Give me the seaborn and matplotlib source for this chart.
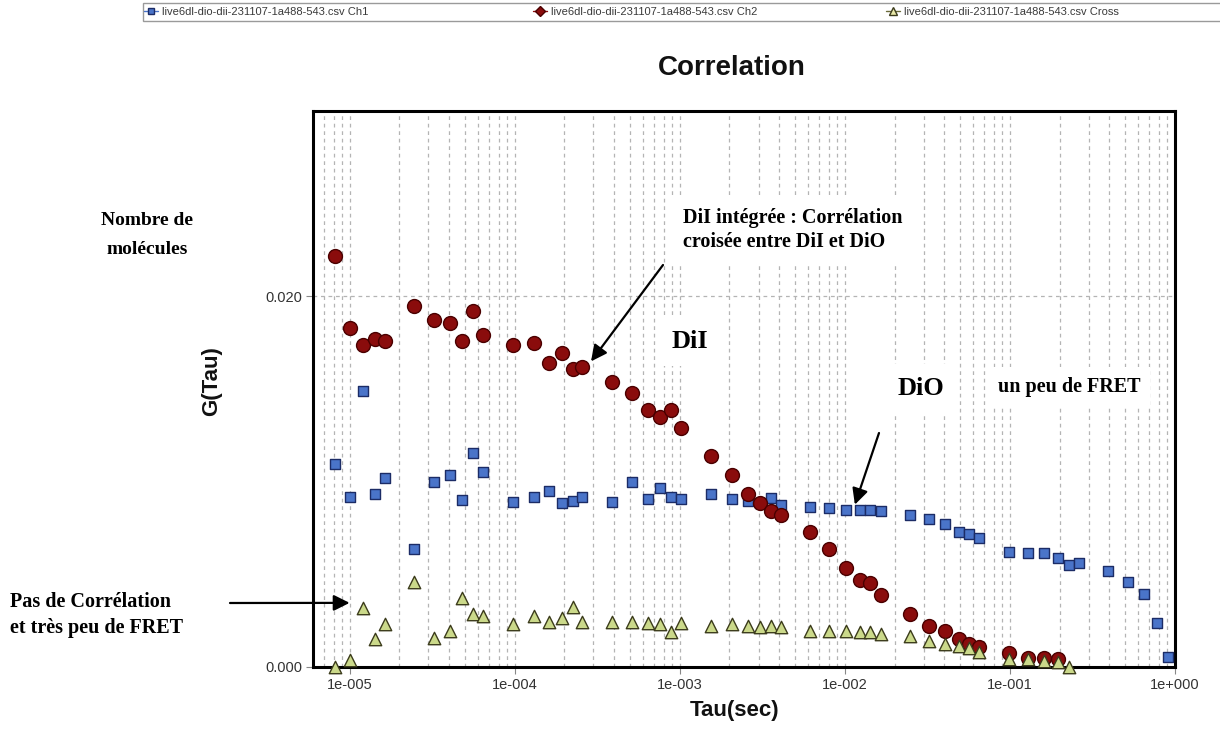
import numpy as np
import pandas as pd
import seaborn as sns
import matplotlib
matplotlib.use("Agg")
import matplotlib.pyplot as plt
from matplotlib import font_manager
from matplotlib.lines import Line2D
from matplotlib.patches import Rectangle
from matplotlib.ticker import FixedLocator, LogLocator, NullFormatter

# Lag times (s) shared by the three correlation curves
tau = [8.2e-6, 1.0e-5, 1.21e-5, 1.42e-5, 1.63e-5, 2.44e-5, 3.26e-5, 4.07e-5,
       4.82e-5, 5.62e-5, 6.43e-5, 9.7e-5, 1.30e-4, 1.62e-4, 1.93e-4, 2.25e-4,
       2.57e-4, 3.87e-4, 5.16e-4, 6.45e-4, 7.63e-4, 8.9e-4, 1.02e-3, 1.55e-3,
       2.07e-3, 2.58e-3, 3.07e-3, 3.56e-3, 4.1e-3, 6.14e-3, 8.03e-3, 1.02e-2,
       1.23e-2, 1.43e-2, 1.65e-2, 2.47e-2, 3.24e-2, 4.06e-2, 4.89e-2, 5.67e-2,
       6.52e-2, 9.82e-2, 0.129, 0.161, 0.195, 0.228, 0.261, 0.393, 0.517,
       0.646, 0.778, 0.908]

g_ch1 = [0.01094, 0.00917, 0.01488, 0.00933, 0.01020, 0.00638, 0.00996, 0.01038,
         0.00899, 0.01155, 0.01052, 0.00892, 0.00917, 0.00950, 0.00886, 0.00894,
         0.00917, 0.00892, 0.00996, 0.00906, 0.00964, 0.00915, 0.00908, 0.00933,
         0.00908, 0.00895, 0.00885, 0.00910, 0.00872, 0.00866, 0.00858, 0.00849,
         0.00849, 0.00849, 0.00842, 0.00822, 0.00796, 0.00771, 0.00731, 0.00717,
         0.00694, 0.00620, 0.00613, 0.00613, 0.00589, 0.00551, 0.00560, 0.00517,
         0.00461, 0.00393, 0.00239, 0.00056]

g_ch2 = [0.02215, 0.01831, 0.01735, 0.01768, 0.01759, 0.01950, 0.01872, 0.01854,
         0.01759, 0.01920, 0.01791, 0.01735, 0.01750, 0.01640, 0.01695, 0.01610,
         0.01618, 0.01537, 0.01481, 0.01387, 0.01351, 0.01384, 0.01290, 0.01140,
         0.01036, 0.00935, 0.00885, 0.00841, 0.00820, 0.00726, 0.00638, 0.00533,
         0.00472, 0.00452, 0.00389, 0.00286, 0.00223, 0.00196, 0.00150, 0.00123,
         0.00106, 0.00074, 0.00050, 0.00050, 0.00041]

g_cross = [0.00000, 0.00038, 0.00320, 0.00150, 0.00231, 0.00458, 0.00155, 0.00195,
           0.00371, 0.00285, 0.00276, 0.00231, 0.00276, 0.00245, 0.00267, 0.00323,
           0.00245, 0.00245, 0.00241, 0.00236, 0.00231, 0.00191, 0.00236, 0.00222,
           0.00231, 0.00222, 0.00218, 0.00222, 0.00215, 0.00196, 0.00195, 0.00195,
           0.00188, 0.00191, 0.00178, 0.00168, 0.00142, 0.00123, 0.00114, 0.00104,
           0.00083, 0.00045, 0.00041, 0.00032, 0.00029, 0.00000]

series_names = ["live6dl-dio-dii-231107-1a488-543.csv Ch1",
                "live6dl-dio-dii-231107-1a488-543.csv Ch2",
                "live6dl-dio-dii-231107-1a488-543.csv Cross"]

x_ticks = [1e-5, 1e-4, 1e-3, 1e-2, 1e-1, 1.0]
x_tick_labels = ["1e-005", "1e-004", "1e-003", "1e-002", "1e-001", "1e+000"]
y_ticks = [0.0, 0.02]
y_tick_labels = ["0.000", "0.020"]

# Build one long table for seaborn
frames = []
for name, g in zip(series_names, [g_ch1, g_ch2, g_cross]):
    frames.append(pd.DataFrame({"tau": tau[:len(g)], "G": g, "series": name}))
data = pd.concat(frames, ignore_index=True)

styles = {
    series_names[0]: dict(marker="s", s=52, color="#4a74c9", edgecolor="#1c2c66"),
    series_names[1]: dict(marker="o", s=100, color="#8a0c0c", edgecolor="#4a0000"),
    series_names[2]: dict(marker="^", s=80, color="#cbd98a", edgecolor="#3c3c1c"),
}

sns.set_theme(style="white")
installed = {f.name for f in font_manager.fontManager.ttflist}
narrow = "Liberation Sans Narrow" if "Liberation Sans Narrow" in installed else "Liberation Sans"
plt.rcParams["font.family"] = [narrow, "DejaVu Sans"]
serif = ["Liberation Serif", "DejaVu Serif"]

W, H = 1220, 740
fig = plt.figure(figsize=(W / 100, H / 100), dpi=100)
fig.patch.set_facecolor("white")


def fx(px):
    return px / W


def fy(py):
    return 1 - py / H


ax = fig.add_axes([fx(313), fy(667), fx(1175) - fx(313), fy(111) - fy(667)])
ax.set_facecolor("white")

for name in series_names:
    st = styles[name]
    sns.scatterplot(data=data[data["series"] == name], x="tau", y="G", ax=ax,
                    marker=st["marker"], s=st["s"], color=st["color"],
                    edgecolor=st["edgecolor"], linewidth=1.0, legend=False,
                    zorder=3, clip_on=False)

ax.set_xscale("log")
ax.set_xlim(6e-6, 1.0)
ax.set_ylim(0.0, 0.030)

ax.xaxis.set_major_locator(FixedLocator(x_ticks))
ax.set_xticklabels(x_tick_labels)
ax.xaxis.set_minor_locator(LogLocator(base=10, subs=np.arange(2, 10)))
ax.xaxis.set_minor_formatter(NullFormatter())
ax.set_yticks(y_ticks)
ax.set_yticklabels(y_tick_labels)

grid_kw = dict(color="#b4b4b4", linestyle=(0, (3, 3)), linewidth=0.9)
ax.grid(True, which="both", axis="x", **grid_kw)
ax.grid(True, which="major", axis="y", **grid_kw)
ax.set_axisbelow(True)

ax.tick_params(axis="both", which="major", direction="out", length=5, width=0.8,
               color="#888888", labelsize=10.5, labelcolor="#333333", pad=3)
ax.tick_params(axis="x", which="minor", direction="out", length=4, width=0.8,
               color="#999999")
ax.tick_params(left=True, bottom=True)

for sp in ax.spines.values():
    sp.set_visible(True)
    sp.set_color("black")
    sp.set_linewidth(2.2)

ax.set_xlabel("Tau(sec)", fontsize=16, fontweight="bold", color="#111111")
ax.xaxis.set_label_coords((735 - 313) / 862, (667 - 700) / 556)
ax.set_ylabel("G(Tau)", fontsize=16, fontweight="bold", color="#111111")
ax.yaxis.set_label_coords((222 - 313) / 862, 0.515)

fig.text(fx(732), fy(68), "Correlation", fontsize=20, fontweight="bold",
         color="#111111", ha="center", va="center")

# Legend strip across the top
fig.patches.append(Rectangle((fx(143), fy(21)), fx(1230) - fx(143), fy(3) - fy(21),
                             transform=fig.transFigure, facecolor="white",
                             edgecolor="#9a9a9a", linewidth=1.0, zorder=1))
legend_handles = [
    Line2D([], [], color="#4a74c9", marker="s", ms=5, mfc="#4a74c9", mec="#1c2c66", lw=1),
    Line2D([], [], color="#8a0c0c", marker="D", ms=5, mfc="#8a0c0c", mec="#4a0000", lw=1),
    Line2D([], [], color="#6b6b3a", marker="^", ms=6, mfc="#e8e8a8", mec="#3c3c1c", lw=1),
]
legend_x = [142, 531, 884]
for h, name, lx in zip(legend_handles, series_names, legend_x):
    leg = fig.legend(handles=[h], labels=[name], loc="center left",
                     bbox_to_anchor=(fx(lx), fy(12)), frameon=False,
                     fontsize=8, handlelength=1.2, handletextpad=0.4,
                     borderpad=0.0, borderaxespad=0.2)
    for t in leg.get_texts():
        t.set_color("#3a3a3a")
    leg.set_zorder(2)

# Annotations
box = dict(boxstyle="square,pad=0.5", facecolor="white", edgecolor="none")
ann_kw = dict(family=serif, fontweight="bold", color="black")

fig.text(fx(147), fy(235), "Nombre de\nmolécules", fontsize=14, ha="center",
         va="center", linespacing=1.95, **ann_kw)
fig.text(fx(683), fy(230), "DiI intégrée : Corrélation\ncroisée entre DiI et DiO",
         fontsize=14.5, ha="left", va="center", linespacing=1.3,
         bbox=dict(boxstyle="square,pad=0.6", facecolor="white", edgecolor="none"),
         **ann_kw)
fig.text(fx(690), fy(341), "DiI", fontsize=19, ha="center", va="center",
         bbox=box, **ann_kw)
fig.text(fx(921), fy(389), "DiO", fontsize=19, ha="center", va="center",
         bbox=box, **ann_kw)
fig.text(fx(1069), fy(387), "un peu de FRET", fontsize=14.5, ha="center",
         va="center", bbox=box, **ann_kw)
fig.text(fx(10), fy(615), "Pas de Corrélation\net très peu de FRET", fontsize=14.5,
         ha="left", va="center", linespacing=1.35, **ann_kw)

arrow = dict(arrowstyle="-|>", color="black", lw=1.6, mutation_scale=24,
             shrinkA=0, shrinkB=0)
for tip_x, tip_y, tail_px in [(2.9e-4, 0.01649, (663, 265)),
                              (1.15e-2, 0.00876, (879, 433)),
                              (1.0e-5, 0.00346, (230, 603))]:
    ax.annotate("", xy=(tip_x, tip_y), xycoords="data",
                xytext=(fx(tail_px[0]), fy(tail_px[1])), textcoords="figure fraction",
                arrowprops=arrow, annotation_clip=False, zorder=6)

fig.savefig("out.png", dpi=100, facecolor="white")
